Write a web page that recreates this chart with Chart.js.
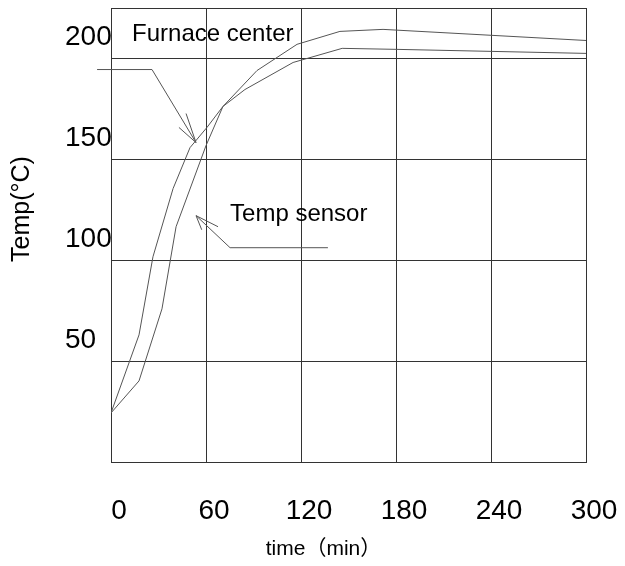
<!DOCTYPE html>
<html>
<head>
<meta charset="utf-8">
<script src="https://cdn.jsdelivr.net/npm/chart.js@4.4.1/dist/chart.umd.min.js"></script>
<style>
  html, body { margin: 0; padding: 0; background: #fff; }
  #wrap { width: 625px; height: 566px; }
</style>
</head>
<body>
<div id="wrap"><canvas id="myChart" width="625" height="566"></canvas></div>
<script>
// axes
const timeTicks = [0, 60, 120, 180, 240, 300];
const tempTicks = [50, 100, 150, 200]; // labelled
const tempGrid = [0, 50, 100, 150, 200];
const tempTop = 225;

// curves: time (min) / temp (°C)
const furnaceTime = [0, 17.7, 26.5, 39.2, 49.9, 60.6, 70.7, 84.6, 115, 146, 180.6, 300];
const furnaceTemp = [24.3, 63, 101.7, 135.5, 155.8, 165.8, 176.2, 184.6, 198, 205, 204.5, 202.5];
const sensorTime = [0, 17.7, 32.2, 41.1, 60, 70.7, 92.2, 117.5, 144.6, 171.8, 300];
const sensorTemp = [24.3, 40.2, 75.9, 116.6, 156.8, 176.2, 194, 207, 213.4, 214.4, 208.9];

// callouts, in [time, temp]; last leader point is the arrow tip
const furnaceLeader = [[-8.8, 194.5], [25.9, 194.5], [53.7, 158.3]];
const furnaceBarbs = [[42.9, 165.8], [47.4, 172.7]];
const sensorLeader = [[137, 106.2], [75.2, 106.2], [53.7, 122.1]];
const sensorBarbs = [[67.6, 116.6], [57.3, 115.1]];
const calloutText = ['Furnace center', 'Temp sensor'];
const calloutAt = [[13.3, 211.9], [75.2, 122.6]];

const xTitle = 'time（min）';
const yTitle = 'Temp(°C)';

const family = '"Liberation Sans", Arial, "Noto Sans CJK SC", sans-serif';
const gridColor = '#333';
const lineColor = '#555';

const zip = (xs, ys) => xs.map((v, i) => ({x: v, y: ys[i]}));

const callouts = {
	id: 'callouts',
	afterDatasetsDraw(chart) {
		const {ctx, chartArea, scales: {x, y}} = chart;
		const px = p => [x.getPixelForValue(p[0]), y.getPixelForValue(p[1])];
		ctx.save();
		ctx.strokeStyle = lineColor;
		ctx.lineWidth = 1;
		[[furnaceLeader, furnaceBarbs], [sensorLeader, sensorBarbs]].forEach(([leader, barbs]) => {
			ctx.beginPath();
			leader.forEach((p, i) => {
				const [a, b] = px(p);
				if (i) ctx.lineTo(a, b); else ctx.moveTo(a, b);
			});
			const tip = px(leader[leader.length - 1]);
			barbs.forEach(p => {
				const [a, b] = px(p);
				ctx.moveTo(a, b);
				ctx.lineTo(tip[0], tip[1]);
			});
			ctx.stroke();
		});

		ctx.fillStyle = '#000';
		ctx.font = '24px ' + family;
		ctx.textAlign = 'left';
		ctx.textBaseline = 'middle';
		calloutText.forEach((t, i) => {
			const [a, b] = px(calloutAt[i]);
			ctx.fillText(t, a, b);
		});

		// axis titles
		ctx.font = '21px ' + family;
		ctx.textAlign = 'center';
		ctx.fillText(xTitle, (chartArea.left + chartArea.right) / 2 - 25, chartArea.bottom + 87);
		ctx.font = '25px ' + family;
		ctx.translate(22, (chartArea.top + chartArea.bottom) / 2 - 26);
		ctx.rotate(-Math.PI / 2);
		ctx.fillText(yTitle, 0, 0);
		ctx.restore();
	}
};

new Chart(document.getElementById('myChart').getContext('2d'), {
	type: 'line',
	data: {
		datasets: [{
			label: 'Furnace center',
			data: zip(furnaceTime, furnaceTemp),
			borderColor: lineColor,
			borderWidth: 1,
			pointRadius: 0,
			tension: 0,
		}, {
			label: 'Temp sensor',
			data: zip(sensorTime, sensorTemp),
			borderColor: lineColor,
			borderWidth: 1,
			pointRadius: 0,
			tension: 0,
		}]
	},
	options: {
		responsive: false,
		animation: false,
		layout: { padding: { left: 65, right: 39, top: 8, bottom: 0 } },
		plugins: {
			legend: { display: false },
			tooltip: { enabled: false },
		},
		scales: {
			x: {
				type: 'linear',
				min: 0,
				max: 300,
				afterBuildTicks: s => { s.ticks = timeTicks.map(v => ({value: v})); },
				afterFit: s => { s.height = 104; },
				grid: { color: gridColor, drawTicks: false },
				border: { color: gridColor },
				ticks: {
					color: '#000',
					font: { size: 28, family, lineHeight: 3.5 },
					padding: 0,
					labelOffset: 8,
					maxRotation: 0,
					autoSkip: false,
				},
			},
			y: {
				type: 'linear',
				min: 0,
				max: tempTop,
				afterBuildTicks: s => { s.ticks = tempGrid.concat(tempTop).map(v => ({value: v})); },
				afterFit: s => { s.width = 46; },
				grid: { color: gridColor, drawTicks: false },
				border: { color: gridColor },
				ticks: {
					color: '#000',
					font: { size: 28, family, lineHeight: 0.5 },
					padding: 0,
					crossAlign: 'far',
					labelOffset: -21,
					autoSkip: false,
					callback: v => tempTicks.includes(v) ? String(v) : '',
				},
			},
		},
	},
	plugins: [callouts],
});
</script>
</body>
</html>
